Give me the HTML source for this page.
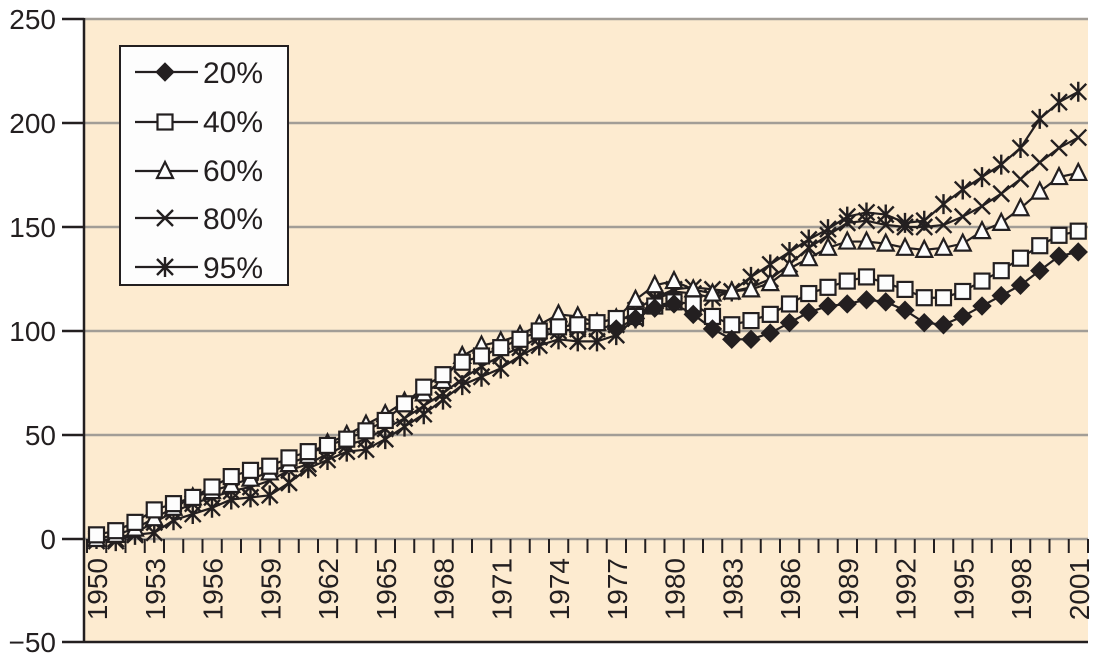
<!DOCTYPE html>
<html><head><meta charset="utf-8"><style>
html,body{margin:0;padding:0;background:#fff;}
svg{display:block;font-family:"Liberation Sans",sans-serif;}
</style></head><body>
<svg id="s" width="1096" height="659" viewBox="0 0 1096 659" xmlns="http://www.w3.org/2000/svg">
<rect x="84" y="19" width="1004" height="623" fill="#fdebd0"/>
<g stroke="#a29d96" stroke-width="2.5">
<line x1="84" y1="19" x2="1088" y2="19"/>
<line x1="84" y1="123" x2="1088" y2="123"/>
<line x1="84" y1="227" x2="1088" y2="227"/>
<line x1="84" y1="331" x2="1088" y2="331"/>
<line x1="84" y1="435" x2="1088" y2="435"/>
<line x1="84" y1="539" x2="1088" y2="539"/>
</g>
<g stroke="#231f20" stroke-width="2.5">
<line x1="84" y1="18" x2="84" y2="643"/>
<line x1="62" y1="19" x2="84" y2="19"/>
<line x1="62" y1="123" x2="84" y2="123"/>
<line x1="62" y1="227" x2="84" y2="227"/>
<line x1="62" y1="331" x2="84" y2="331"/>
<line x1="62" y1="435" x2="84" y2="435"/>
<line x1="62" y1="539" x2="84" y2="539"/>
<line x1="62" y1="642" x2="1088" y2="642"/>
</g>
<g id="ticks" stroke="#231f20" stroke-width="2"></g>
<g font-size="28" fill="#231f20" text-anchor="end">
<text x="56" y="29">250</text>
<text x="56" y="133">200</text>
<text x="56" y="237">150</text>
<text x="56" y="341">100</text>
<text x="56" y="445">50</text>
<text x="56" y="549">0</text>
<text x="56" y="652">−50</text>
</g>
<g font-size="28" fill="#231f20" text-anchor="end">
<text transform="translate(107,558) rotate(-90)">1950</text>
<text transform="translate(164.75,558) rotate(-90)">1953</text>
<text transform="translate(222.5,558) rotate(-90)">1956</text>
<text transform="translate(280.25,558) rotate(-90)">1959</text>
<text transform="translate(338,558) rotate(-90)">1962</text>
<text transform="translate(395.75,558) rotate(-90)">1965</text>
<text transform="translate(453.5,558) rotate(-90)">1968</text>
<text transform="translate(511.25,558) rotate(-90)">1971</text>
<text transform="translate(569,558) rotate(-90)">1974</text>
<text transform="translate(626.75,558) rotate(-90)">1977</text>
<text transform="translate(684.5,558) rotate(-90)">1980</text>
<text transform="translate(742.25,558) rotate(-90)">1983</text>
<text transform="translate(800,558) rotate(-90)">1986</text>
<text transform="translate(857.75,558) rotate(-90)">1989</text>
<text transform="translate(915.5,558) rotate(-90)">1992</text>
<text transform="translate(973.25,558) rotate(-90)">1995</text>
<text transform="translate(1031,558) rotate(-90)">1998</text>
<text transform="translate(1088.75,558) rotate(-90)">2001</text>
</g>
<g id="series"></g>
<rect x="120" y="46" width="168" height="239" fill="#fdfdfd" stroke="#231f20" stroke-width="2"/>
<g stroke="#231f20" stroke-width="2.2" fill="none">
<line x1="135" y1="72" x2="198" y2="72"/>
<line x1="135" y1="122" x2="198" y2="122"/>
<line x1="135" y1="171" x2="198" y2="171"/>
<line x1="135" y1="218" x2="198" y2="218"/>
<line x1="135" y1="267" x2="198" y2="267"/>
</g>
<g id="legm"></g>
<g font-size="30" fill="#231f20">
<text x="203" y="83">20%</text>
<text x="203" y="132">40%</text>
<text x="203" y="181">60%</text>
<text x="203" y="229">80%</text>
<text x="203" y="278">95%</text>
</g>
</svg>
<script>
var NS="http://www.w3.org/2000/svg";
function el(p,t,a){var e=document.createElementNS(NS,t);for(var k in a)e.setAttribute(k,a[k]);p.appendChild(e);return e;}
var tk=document.getElementById('ticks');
for(var i=0;i<=52;i++){var x=87+19.25*i;el(tk,'line',{x1:x,y1:539,x2:x,y2:553});}
function X(y){return 96.5+19.25*(y-1950);}
function Y(v){return 539-v*2.08;}
function mk(g,type,x,y){
 if(type==0){el(g,'polygon',{points:(x)+","+(y-9)+" "+(x+9)+","+y+" "+x+","+(y+9)+" "+(x-9)+","+y,fill:"#231f20",stroke:"#231f20","stroke-width":1});}
 else if(type==1){el(g,'rect',{x:x-7.5,y:y-7.5,width:15,height:15,fill:"#fdfdfd",stroke:"#231f20","stroke-width":2.2});}
 else if(type==2){el(g,'polygon',{points:x+","+(y-9)+" "+(x+8)+","+(y+7)+" "+(x-8)+","+(y+7),fill:"#fdfdfd",stroke:"#231f20","stroke-width":2.2});}
 else if(type==3){el(g,'path',{d:"M"+(x-8)+" "+(y-8)+"L"+(x+8)+" "+(y+8)+"M"+(x-8)+" "+(y+8)+"L"+(x+8)+" "+(y-8),stroke:"#231f20","stroke-width":2.4});}
 else {el(g,'path',{d:"M"+(x-8)+" "+(y-8)+"L"+(x+8)+" "+(y+8)+"M"+(x-8)+" "+(y+8)+"L"+(x+8)+" "+(y-8)+"M"+x+" "+(y-10)+"L"+x+" "+(y+10),stroke:"#231f20","stroke-width":2.4});}
}
var S=[
 [1977,[101,106,111,113,108,101,96,96,99,104,109,112,113,115,114,110,104,103,107,112,117,122,129,136,138]],
 [1950,[2,4,8,14,17,20,25,30,33,35,39,42,45,48,52,57,65,73,79,85,88,92,96,100,102,103,104,106,107,112,114,113,107,103,105,108,113,118,121,124,126,123,120,116,116,119,124,129,135,141,146,148]],
 [1950,[0,2,5,10,15,20,23,26,29,32,36,40,46,50,55,60,66,70,76,88,93,95,98,103,108,107,104,106,115,122,124,120,118,119,120,123,130,135,140,143,143,142,140,139,140,142,148,152,159,167,174,176]],
 [1950,[-1,0,3,8,13,17,20,23,25,28,33,36,41,45,48,53,58,64,70,77,83,88,92,97,100,101,101,103,110,116,120,121,120,119,121,125,132,140,146,152,153,151,150,150,151,155,160,166,173,181,188,193]],
 [1950,[0,-1,2,3,9,12,15,19,20,21,27,34,38,42,43,48,54,60,67,74,78,82,88,93,96,95,95,98,106,115,119,118,116,119,126,132,138,144,149,155,157,156,152,153,161,168,174,180,188,202,210,215]]
];
var sg=document.getElementById('series');
[4,3,2,1,0].forEach(function(t){
 var s=S[t],pts=[];
 s[1].forEach(function(v,i){pts.push(X(s[0]+i)+","+Y(v));});
 el(sg,'polyline',{points:pts.join(" "),fill:"none",stroke:"#231f20","stroke-width":2.2});
 s[1].forEach(function(v,i){mk(sg,t,X(s[0]+i),Y(v));});
});
var lg=document.getElementById('legm');
[72,122,171,218,267].forEach(function(y,t){mk(lg,t,165,y);});
</script>
</body></html>
